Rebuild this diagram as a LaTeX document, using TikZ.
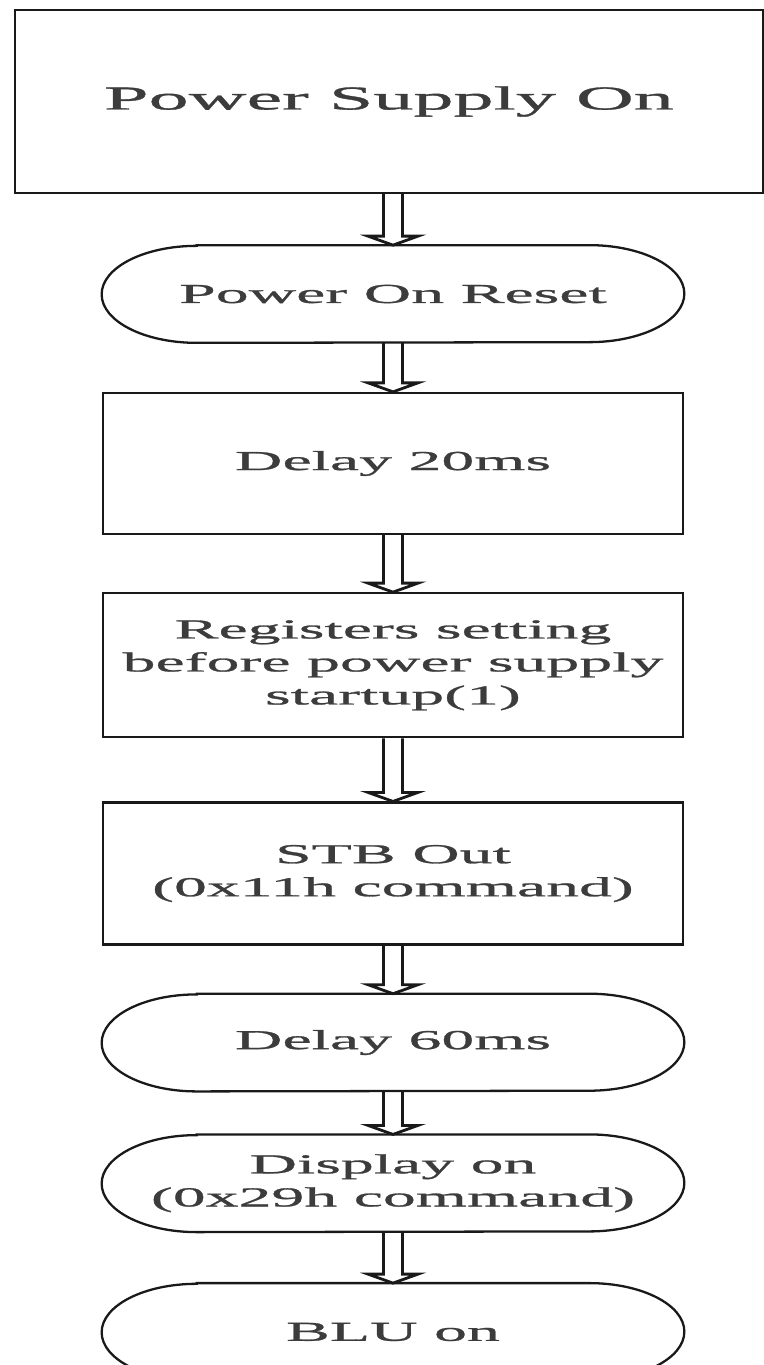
\documentclass[tikz,border=0pt]{standalone}
\usepackage{fontspec}
\newfontfamily\flowfont[FakeStretch=2.4,FakeBold=1]{Liberation Serif}
\usepackage{tikz}
\usetikzlibrary{positioning,calc}
\definecolor{flowtext}{RGB}{60,60,60}
\definecolor{flowline}{RGB}{25,25,25}
\tikzset{
  outline/.style={draw=flowline, line width=1.3pt},
  stepbox/.style={
    outline,
    minimum width=11.6cm,
    align=center,
    text=flowtext,
    font=\flowfont\fontsize{15.6}{18.8}\selectfont
  },
  termbox/.style={
    minimum width=11.64cm,
    minimum height=1.94cm,
    align=center,
    text=flowtext,
    font=\flowfont\fontsize{15.6}{18.8}\selectfont
  }
}
% start/end shape: flat top and bottom, elliptic ends
\newcommand{\termoutline}[1]{%
  \draw[outline] ($(#1.north west)+(1.9,0)$) -- ($(#1.north east)+(-1.9,0)$)
    arc[start angle=90, end angle=-90, x radius=1.9cm, y radius=0.97cm]
    -- ($(#1.south west)+(1.9,0)$)
    arc[start angle=270, end angle=90, x radius=1.9cm, y radius=0.97cm] -- cycle;}
% hollow double-line arrow
\newcommand{\flowarrow}[2]{%
  \draw[outline, line width=1.6pt, line join=miter] ($(#1.south -| #2.north)+(-0.19,0)$)
    -- ($(#2.north)+(-0.19,0.18)$) -- ($(#2.north)+(-0.5,0.18)$) -- (#2.north)
    -- ($(#2.north)+(0.5,0.18)$) -- ($(#2.north)+(0.19,0.18)$)
    -- ($(#1.south -| #2.north)+(0.19,0)$);}

\begin{document}
\begin{tikzpicture}
  \useasboundingbox (0,0) rectangle (15.28,-27.3);

  \node[stepbox, minimum width=14.96cm, minimum height=3.66cm,
        font=\flowfont\fontsize{19}{22.8}\selectfont] (psu) at (7.78,-2.03) {Power Supply On};
  \node[termbox, below=1.02cm of psu, xshift=0.08cm] (por) {Power On Reset};
  \node[stepbox, minimum height=2.82cm, below=0.98cm of por] (d20) {Delay 20ms};
  \node[stepbox, minimum height=2.88cm, below=1.14cm of d20] (reg) {Registers setting\\before power supply\\startup(1)};
  \node[stepbox, minimum height=2.84cm, below=1.26cm of reg] (stb) {STB Out\\(0x11h command)};
  \node[termbox, below=0.96cm of stb] (d60) {Delay 60ms};
  \node[termbox, below=0.86cm of d60] (disp) {Display on\\(0x29h command)};
  \node[termbox, below=1.02cm of disp] (blu) {BLU on};

  \foreach \n in {por,d60,disp,blu}
    \termoutline{\n};

  \foreach \a/\b in {psu/por,por/d20,d20/reg,reg/stb,stb/d60,d60/disp,disp/blu}
    \flowarrow{\a}{\b};
\end{tikzpicture}
\end{document}
